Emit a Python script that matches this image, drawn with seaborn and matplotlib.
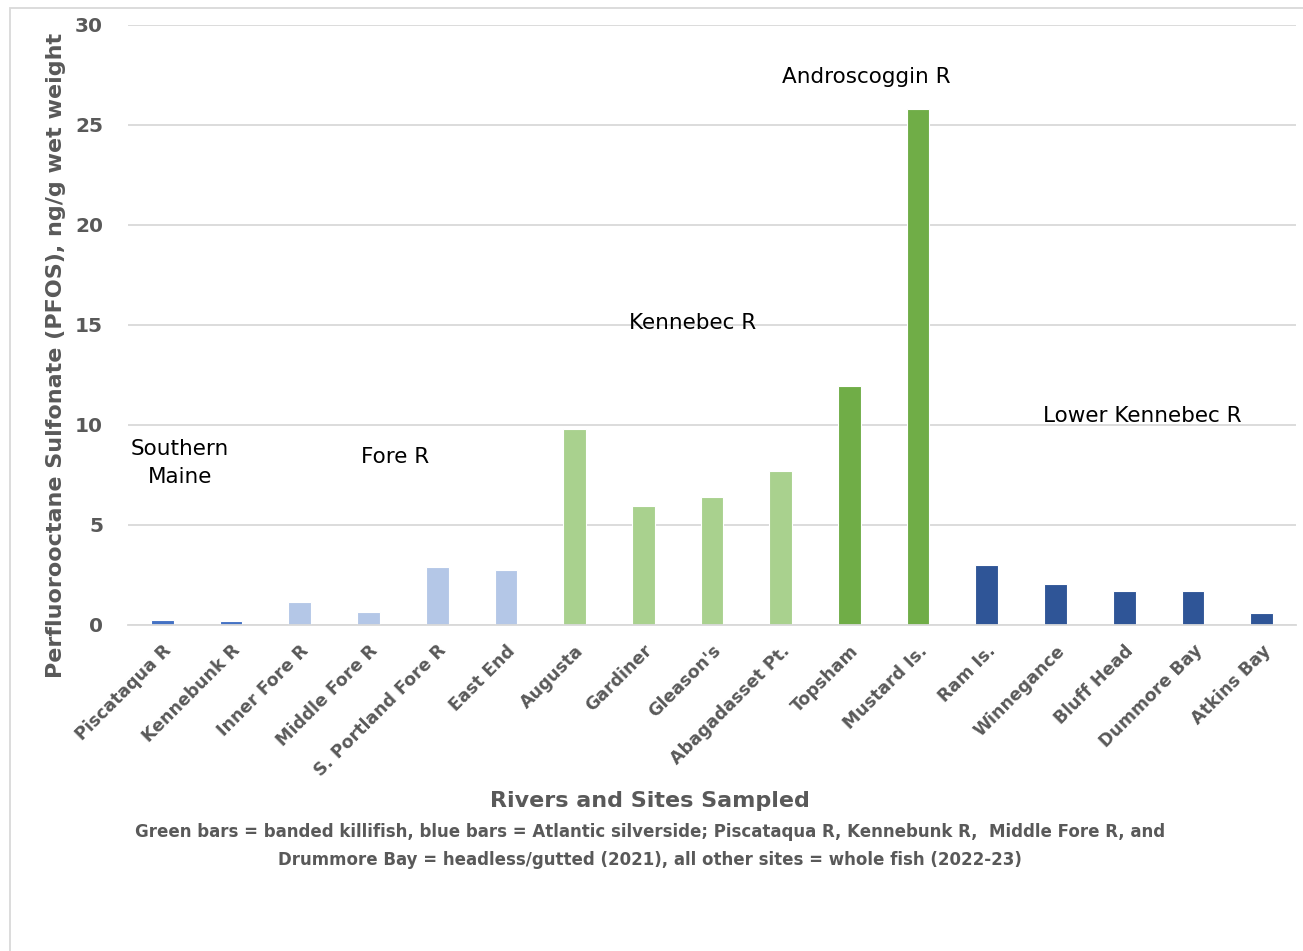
import matplotlib
matplotlib.use("Agg")
import matplotlib.pyplot as plt
import seaborn as sns
import pandas as pd
from matplotlib.patches import Rectangle

sites = ["Piscataqua R", "Kennebunk R", "Inner Fore R", "Middle Fore R", "S. Portland Fore R",
         "East End", "Augusta", "Gardiner", "Gleason's", "Abagadasset Pt.", "Topsham",
         "Mustard Is.", "Ram Is.", "Winnegance", "Bluff Head", "Dummore Bay", "Atkins Bay"]
pfos = [0.25, 0.2, 1.13, 0.67, 2.88, 2.73, 9.82, 5.95, 6.38, 7.72, 11.95, 25.8,
        2.98, 2.05, 1.68, 1.68, 0.58]
groups = ["Southern Maine"] * 2 + ["Fore R"] * 4 + ["Kennebec R"] * 4 + ["Androscoggin R"] * 2 + \
         ["Lower Kennebec R"] * 5
group_colors = {"Southern Maine": "#4472C4", "Fore R": "#B4C7E7", "Kennebec R": "#A9D18E",
                "Androscoggin R": "#70AD47", "Lower Kennebec R": "#2F5597"}
group_labels = ["Southern\nMaine", "Fore R", "Kennebec R", "Androscoggin R", "Lower Kennebec R"]
label_x = [0.26, 3.39, 7.72, 10.25, 14.27]
label_y = [8.1, 8.4, 15.1, 27.4, 10.45]

sns.set_theme(style="white")
plt.rcParams['font.family'] = ['DejaVu Sans']

df = pd.DataFrame({"site": sites, "pfos": pfos, "group": groups})
palette = [group_colors[g] for g in groups]

fig = plt.figure(figsize=(13.03, 9.51), dpi=100)
ax = fig.add_axes([128 / 1303, 1 - 625 / 951, (1296 - 128) / 1303, 600 / 951])

sns.barplot(data=df, x="site", y="pfos", hue="site", palette=palette, legend=False,
            width=0.33, edgecolor="white", linewidth=0.8, saturation=1, ax=ax)

grey = "#595959"
ax.set_ylim(0, 30)
ax.set_xlim(-0.5, len(sites) - 0.5)
ax.set_yticks(range(0, 31, 5))
ax.yaxis.grid(True, color="#D9D9D9", linewidth=1.3)
ax.set_axisbelow(True)
for s in ["top", "right", "left"]:
    ax.spines[s].set_visible(False)
ax.spines["bottom"].set_color("#D9D9D9")
ax.spines["bottom"].set_linewidth(1.3)
ax.tick_params(axis="both", length=0, colors=grey)
ax.tick_params(axis="y", labelsize=14.5, pad=18)
for t in ax.get_yticklabels():
    t.set_fontweight("bold")
ax.set_xticks(range(len(sites)))
ax.set_xticklabels(sites, rotation=45, ha="right", rotation_mode="anchor",
                   fontsize=12.5, fontweight="bold", color=grey)
ax.tick_params(axis="x", pad=12)

ax.set_xlabel("")
ax.set_ylabel("Perfluorooctane Sulfonate (PFOS), ng/g wet weight", fontsize=16,
              fontweight="bold", color=grey)
ax.yaxis.set_label_coords(-62 / 1168, 0.45)

for lbl, x, y in zip(group_labels, label_x, label_y):
    ax.text(x, y, lbl, ha="center", va="center", fontsize=15.5, color="black",
            linespacing=1.45)

fig.text(650 / 1303, 1 - 801 / 951, "Rivers and Sites Sampled", ha="center", va="center",
         fontsize=16, fontweight="bold", color=grey)
fig.text(650 / 1303, 1 - 846 / 951,
         "Green bars = banded killifish, blue bars = Atlantic silverside; Piscataqua R, Kennebunk R,  Middle Fore R, and\n"
         "Drummore Bay = headless/gutted (2021), all other sites = whole fish (2022-23)",
         ha="center", va="center", fontsize=12, fontweight="bold", color=grey, linespacing=1.75)

fig.patches.append(Rectangle((10 / 1303, -0.1), 1.2, 1 - 8 / 951 + 0.1, transform=fig.transFigure,
                             fill=False, edgecolor="#D9D9D9", linewidth=1.3))

fig.savefig("out.png", dpi=100)
